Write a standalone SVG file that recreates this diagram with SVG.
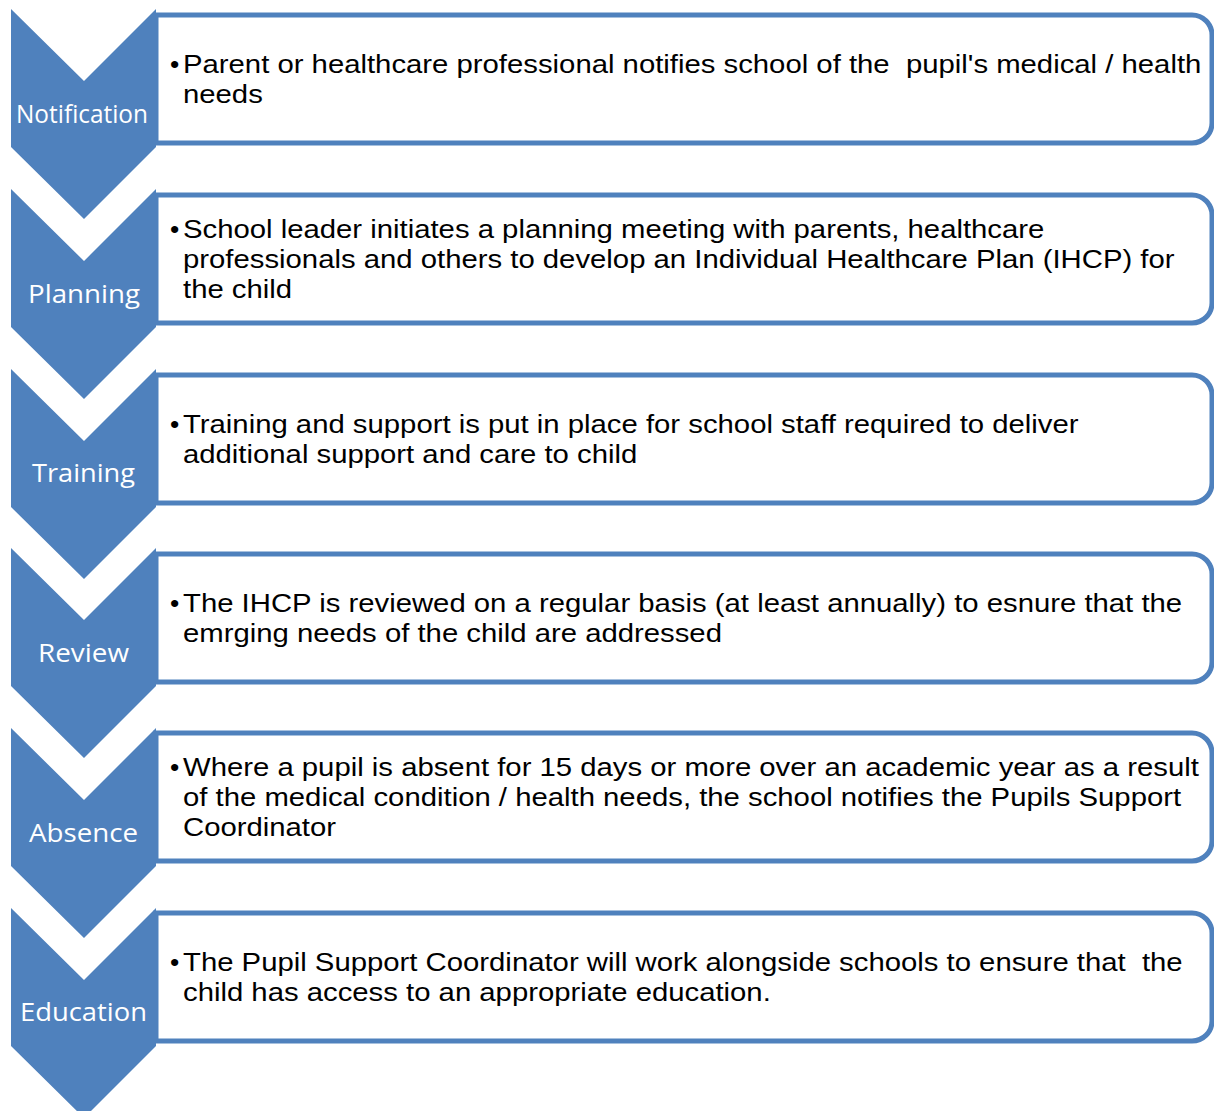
<svg xmlns="http://www.w3.org/2000/svg" width="1214" height="1111" viewBox="0 0 1214 1111">
<defs>
<style>
.chev{fill:#4F81BD;}
.box{fill:#FFFFFF;stroke:#4F81BD;stroke-width:5;}
.lbl{fill:#FFFFFF;font-family:"Open Sans","Noto Sans",sans-serif;font-size:26px;text-anchor:middle;}
.txt{fill:#000000;font-family:"Liberation Sans",Arial,sans-serif;font-size:26.5px;white-space:pre;}
</style>
</defs>
<rect x="0" y="0" width="1214" height="1111" fill="#FFFFFF"/>
<g id="step1">
<path class="box" d="M156,15 H1192 A20,20 0 0 1 1212,35 V123 A20,20 0 0 1 1192,143 H156 Z"/>
<path class="chev" d="M11,9 L84,81 L156,9 V147 L84,219 L11,147 Z"/>
<text class="lbl" x="82" y="123" textLength="132" lengthAdjust="spacingAndGlyphs">Notification</text>
<text class="txt" x="170" y="73">•</text>
<g transform="matrix(1.106 0 0 1 -19.4 0)">
<text class="txt" x="183" y="73" xml:space="preserve">Parent or healthcare professional notifies school of the  pupil's medical / health</text>
<text class="txt" x="183" y="103">needs</text>
</g>
</g>
<g id="step2">
<path class="box" d="M156,195 H1192 A20,20 0 0 1 1212,215 V303 A20,20 0 0 1 1192,323 H156 Z"/>
<path class="chev" d="M11,189 L84,261 L156,189 V327 L84,399 L11,327 Z"/>
<text class="lbl" x="84" y="303" textLength="112" lengthAdjust="spacingAndGlyphs">Planning</text>
<text class="txt" x="170" y="238">•</text>
<g transform="matrix(1.106 0 0 1 -19.4 0)">
<text class="txt" x="183" y="238">School leader initiates a planning meeting with parents, healthcare</text>
<text class="txt" x="183" y="268">professionals and others to develop an Individual Healthcare Plan (IHCP) for</text>
<text class="txt" x="183" y="298">the child</text>
</g>
</g>
<g id="step3">
<path class="box" d="M156,375 H1192 A20,20 0 0 1 1212,395 V483 A20,20 0 0 1 1192,503 H156 Z"/>
<path class="chev" d="M11,369 L84,441 L156,369 V507 L84,579 L11,507 Z"/>
<text class="lbl" x="83.5" y="482" textLength="103" lengthAdjust="spacingAndGlyphs">Training</text>
<text class="txt" x="170" y="433">•</text>
<g transform="matrix(1.106 0 0 1 -19.4 0)">
<text class="txt" x="183" y="433">Training and support is put in place for school staff required to deliver</text>
<text class="txt" x="183" y="463">additional support and care to child</text>
</g>
</g>
<g id="step4">
<path class="box" d="M156,554 H1192 A20,20 0 0 1 1212,574 V662 A20,20 0 0 1 1192,682 H156 Z"/>
<path class="chev" d="M11,548 L84,620 L156,548 V686 L84,758 L11,686 Z"/>
<text class="lbl" x="83.5" y="662" textLength="91" lengthAdjust="spacingAndGlyphs">Review</text>
<text class="txt" x="170" y="612">•</text>
<g transform="matrix(1.106 0 0 1 -19.4 0)">
<text class="txt" x="183" y="612">The IHCP is reviewed on a regular basis (at least annually) to esnure that the</text>
<text class="txt" x="183" y="642">emrging needs of the child are addressed</text>
</g>
</g>
<g id="step5">
<path class="box" d="M156,733 H1192 A20,20 0 0 1 1212,753 V841 A20,20 0 0 1 1192,861 H156 Z"/>
<path class="chev" d="M11,728 L84,800 L156,728 V866 L84,938 L11,866 Z"/>
<text class="lbl" x="83.5" y="842" textLength="109" lengthAdjust="spacingAndGlyphs">Absence</text>
<text class="txt" x="170" y="776">•</text>
<g transform="matrix(1.106 0 0 1 -19.4 0)">
<text class="txt" x="183" y="776">Where a pupil is absent for 15 days or more over an academic year as a result</text>
<text class="txt" x="183" y="806">of the medical condition / health needs, the school notifies the Pupils Support</text>
<text class="txt" x="183" y="836">Coordinator</text>
</g>
</g>
<g id="step6">
<path class="box" d="M156,913 H1192 A20,20 0 0 1 1212,933 V1021 A20,20 0 0 1 1192,1041 H156 Z"/>
<path class="chev" d="M11,908 L84,980 L156,908 V1046 L84,1118 L11,1046 Z"/>
<text class="lbl" x="83.5" y="1021" textLength="127" lengthAdjust="spacingAndGlyphs">Education</text>
<text class="txt" x="170" y="971">•</text>
<g transform="matrix(1.106 0 0 1 -19.4 0)">
<text class="txt" x="183" y="971" xml:space="preserve">The Pupil Support Coordinator will work alongside schools to ensure that  the</text>
<text class="txt" x="183" y="1001">child has access to an appropriate education.</text>
</g>
</g>
<g id="connectors"></g>
</svg>
